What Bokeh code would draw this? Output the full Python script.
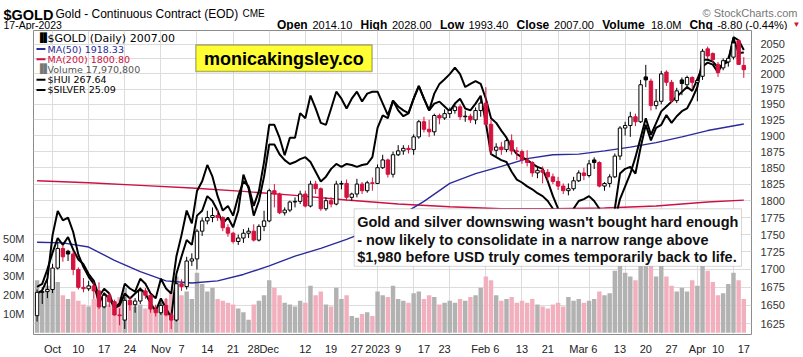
import numpy as np
import pandas as pd
from bokeh.plotting import figure
from bokeh.layouts import column
from bokeh.models import (Range1d, LinearScale, LinearAxis, FixedTicker, Label, LabelSet,
                          ColumnDataSource, BoxAnnotation, PrintfTickFormatter, CustomJSTickFormatter)
from bokeh.core.properties import value
from bokeh.embed import file_html
from bokeh.resources import INLINE

# ---------------- data ----------------
HOLIDAYS = ["2022-11-24", "2022-12-26", "2023-01-02", "2023-01-16", "2023-02-20", "2023-04-07"]
trade_dates = [d for d in pd.bdate_range("2022-09-28", "2023-04-17")
               if d.strftime("%Y-%m-%d") not in HOLIDAYS]

opens = [1636, 1668, 1669, 1672, 1702, 1730, 1726, 1722, 1700, 1675, 1673, 1677, 1670, 1648, 1664, 1655, 1637, 1630, 1657, 1651,
         1656, 1670, 1664, 1645, 1640, 1650, 1637, 1630, 1680, 1676, 1712, 1715, 1755, 1770, 1775, 1778, 1775, 1760, 1752, 1740,
         1745, 1752, 1755, 1742, 1762, 1770, 1815, 1810, 1782, 1786, 1798, 1799, 1810, 1792, 1825, 1818, 1788, 1800, 1795, 1825,
         1826, 1805, 1810, 1825, 1815, 1827, 1826, 1850, 1862, 1840, 1870, 1876, 1880, 1878, 1898, 1922, 1910, 1906, 1932, 1928,
         1935, 1940, 1946, 1930, 1931, 1925, 1940, 1952, 1918, 1877, 1882, 1878, 1892, 1876, 1875, 1862, 1858, 1842, 1846, 1843,
         1836, 1829, 1822, 1815, 1818, 1830, 1842, 1838, 1862, 1858, 1822, 1826, 1836, 1868, 1912, 1916, 1930, 1922, 1995, 1988,
         1948, 1955, 2003, 1986, 1956, 1990, 1982, 1994, 1986, 1996, 2042, 2034, 2016, 2010, 2020, 2028, 2056, 2014.1]
highs = [1672, 1675, 1687, 1708, 1740, 1735, 1728, 1726, 1703, 1688, 1684, 1683, 1682, 1668, 1667, 1658, 1646, 1662, 1662, 1660,
         1675, 1674, 1666, 1651, 1656, 1660, 1640, 1682, 1686, 1718, 1723, 1758, 1775, 1785, 1790, 1787, 1777, 1765, 1754, 1750,
         1758, 1760, 1765, 1765, 1785, 1818, 1825, 1812, 1790, 1800, 1805, 1815, 1815, 1830, 1830, 1820, 1805, 1805, 1830, 1830,
         1832, 1812, 1833, 1828, 1830, 1835, 1855, 1870, 1864, 1875, 1885, 1885, 1885, 1902, 1925, 1930, 1925, 1935, 1935, 1942,
         1945, 1950, 1950, 1940, 1935, 1945, 1960, 1978, 1925, 1888, 1890, 1897, 1902, 1882, 1878, 1877, 1860, 1852, 1852, 1848,
         1841, 1836, 1826, 1826, 1836, 1846, 1850, 1862, 1866, 1860, 1828, 1840, 1872, 1915, 1922, 1938, 1935, 1990, 2015, 1992,
         1975, 2005, 2006, 1990, 1977, 1994, 1997, 1996, 1994, 2042, 2046, 2036, 2020, 2026, 2030, 2062, 2058, 2028]
lows = [1628, 1652, 1660, 1667, 1700, 1711, 1712, 1692, 1672, 1668, 1670, 1659, 1645, 1646, 1648, 1636, 1623, 1618, 1643, 1640,
        1652, 1659, 1640, 1635, 1637, 1635, 1618, 1628, 1670, 1672, 1705, 1700, 1748, 1765, 1768, 1770, 1755, 1747, 1737, 1735,
        1738, 1745, 1740, 1740, 1755, 1768, 1790, 1780, 1778, 1783, 1790, 1795, 1790, 1790, 1810, 1785, 1785, 1790, 1793, 1817,
        1800, 1800, 1805, 1810, 1812, 1815, 1825, 1848, 1835, 1835, 1868, 1870, 1872, 1870, 1895, 1905, 1898, 1900, 1918, 1925,
        1928, 1935, 1925, 1922, 1920, 1918, 1930, 1915, 1870, 1868, 1870, 1874, 1870, 1862, 1856, 1852, 1836, 1834, 1826, 1830,
        1825, 1816, 1810, 1808, 1815, 1828, 1831, 1835, 1848, 1820, 1815, 1820, 1834, 1862, 1900, 1898, 1915, 1920, 1978, 1940,
        1942, 1950, 1980, 1952, 1952, 1965, 1976, 1975, 1955, 1990, 2025, 2018, 1995, 2006, 2012, 2024, 2015, 1993.4]
closes = [1668, 1669, 1672, 1702, 1730, 1718, 1722, 1700, 1675, 1673, 1677, 1670, 1648, 1664, 1655, 1637, 1636, 1657, 1651, 1656,
          1670, 1664, 1645, 1640, 1650, 1637, 1630, 1680, 1676, 1712, 1715, 1755, 1770, 1775, 1778, 1775, 1760, 1752, 1740, 1745,
          1752, 1755, 1742, 1762, 1770, 1815, 1810, 1782, 1786, 1798, 1799, 1810, 1792, 1825, 1818, 1788, 1800, 1795, 1825, 1826,
          1805, 1810, 1825, 1815, 1827, 1826, 1850, 1862, 1840, 1870, 1876, 1880, 1878, 1898, 1922, 1910, 1906, 1932, 1928, 1935,
          1940, 1946, 1930, 1931, 1925, 1940, 1952, 1918, 1877, 1882, 1878, 1892, 1876, 1875, 1862, 1858, 1842, 1846, 1843, 1836,
          1829, 1822, 1815, 1818, 1830, 1842, 1838, 1856, 1858, 1822, 1826, 1836, 1868, 1912, 1916, 1930, 1922, 1982, 1990, 1948,
          1955, 2000, 1986, 1956, 1972, 1984, 1994, 1986, 1989, 2038, 2030, 2024, 2002, 2022, 2026, 2052, 2015.8, 2007]

volume_m = [28, 22, 25, 30, 27, 20, 18, 22, 17, 15, 14, 18, 20, 16, 15, 17, 19, 24, 16, 14,
            15, 13, 15, 14, 16, 18, 22, 30, 20, 22, 18, 32, 26, 22, 24, 18, 17, 16, 15, 13,
            11, 7, 15, 17, 20, 28, 24, 20, 16, 15, 14, 17, 16, 25, 20, 22, 15, 14, 24, 18,
            20, 9, 8, 10, 11, 9, 22, 20, 19, 25, 18, 17, 16, 21, 22, 18, 20, 19, 15, 16,
            17, 16, 18, 17, 19, 20, 24, 30, 28, 20, 17, 18, 19, 16, 17, 16, 18, 15, 14, 13,
            15, 16, 14, 19, 17, 18, 16, 17, 18, 22, 20, 21, 33, 38, 32, 30, 28, 45, 40, 37,
            30, 38, 30, 25, 22, 24, 22, 28, 25, 36, 33, 27, 20, 21, 26, 32, 28, 17.9708]

silver = [18.84, 18.92, 19.22, 20.34, 20.96, 20.72, 20.79, 20.42, 19.84, 19.52, 19.27, 19.09, 18.59, 18.84, 18.72, 18.47, 18.59, 19.09, 18.97, 18.89,
          19.22, 19.09, 18.84, 18.72, 19.22, 18.97, 18.84, 19.79, 20.34, 20.97, 20.64, 21.47, 21.72, 22.14, 21.84, 21.34, 20.97, 21.09, 20.84, 21.34,
          21.72, 21.59, 21.09, 21.47, 22.22, 23.17, 23.17, 22.84, 22.39, 22.84, 22.84, 23.47, 23.34, 23.92, 23.59, 23.22, 23.17, 23.59, 24.02, 23.84,
          23.59, 23.84, 24.02, 23.77, 23.97, 24.02, 24.02, 23.72, 23.42, 23.79, 23.64, 23.54, 23.47, 23.84, 24.17, 23.84, 23.54, 23.97, 24.22, 24.34,
          24.47, 24.64, 24.47, 24.14, 24.22, 24.29, 24.22, 23.84, 23.34, 23.22, 23.02, 22.84, 22.59, 22.42, 22.34, 22.27, 22.17, 22.09, 22.04, 21.72,
          21.34, 21.02, 20.72, 20.34, 20.47, 20.64, 20.54, 20.72, 20.59, 20.09, 19.97, 20.34, 21.02, 21.92, 22.04, 22.09, 21.92, 22.59, 23.17, 22.77,
          23.09, 23.17, 23.42, 23.22, 23.39, 23.52, 23.59, 23.84, 24.14, 24.84, 24.84, 24.79, 24.64, 24.72, 24.79, 25.42, 25.34, 25.09]
hui = [195.5, 196.4, 200.9, 206.0, 210.5, 208.4, 210.8, 206.9, 203.9, 202.4, 199.4, 197.3, 192.5, 194.9, 193.4, 188.9, 189.8, 193.4, 191.9, 193.4,
       194.9, 193.4, 190.4, 188.0, 191.9, 188.9, 185.9, 199.4, 204.8, 209.9, 208.4, 217.4, 218.9, 223.4, 221.9, 218.9, 215.0, 216.8, 213.8, 218.9,
       230.0, 225.8, 217.4, 221.9, 229.4, 239.3, 239.3, 236.3, 234.5, 233.3, 233.9, 234.8, 235.4, 233.9, 230.9, 227.9, 229.4, 231.8, 233.3, 232.4,
       233.3, 233.0, 232.4, 233.0, 233.3, 235.4, 244.4, 248.3, 247.4, 252.8, 249.8, 248.0, 248.9, 253.4, 257.3, 253.4, 249.8, 251.9, 252.5, 251.0,
       249.5, 251.9, 253.4, 250.4, 249.8, 251.9, 254.3, 245.9, 236.3, 235.4, 234.5, 233.9, 230.9, 228.5, 227.6, 226.4, 225.5, 224.3, 223.4, 221.9,
       219.5, 215.9, 212.9, 213.8, 219.5, 221.9, 222.5, 223.4, 221.9, 219.5, 215.9, 211.4, 215.9, 222.5, 226.4, 230.3, 235.4, 241.4, 247.4, 242.3,
       245.9, 249.5, 251.0, 252.5, 254.0, 255.5, 257.0, 255.8, 259.4, 263.3, 264.5, 263.9, 261.5, 264.5, 265.4, 272.0, 267.5, 267.64]

ma50_idx = [0, 5, 10, 15, 20, 25, 30, 35, 40, 45, 50, 55, 60, 65, 70, 75, 80, 85, 90, 95, 100, 105, 110, 115, 120, 125, 130, 137]
ma50 = [1739, 1738, 1732, 1713, 1697, 1684, 1681, 1684, 1693, 1705, 1719, 1730, 1743, 1758, 1776, 1799, 1826, 1841, 1852, 1864,
        1870, 1871, 1876, 1882, 1889, 1898, 1908, 1918.33]
ma200_idx = [0, 10, 20, 30, 40, 50, 60, 70, 80, 90, 100, 110, 120, 130, 137]
ma200 = [1830, 1827, 1823, 1819, 1814, 1808, 1801, 1795, 1791, 1788, 1788, 1789, 1792, 1798, 1800.80]

x_tick_dates = ["2022-10-03", "2022-10-10", "2022-10-17", "2022-10-24", "2022-11-01", "2022-11-07", "2022-11-14",
                "2022-11-21", "2022-11-28", "2022-12-01", "2022-12-12", "2022-12-19", "2022-12-27", "2023-01-03",
                "2023-01-09", "2023-01-17", "2023-01-23", "2023-02-01", "2023-02-06", "2023-02-13", "2023-02-21",
                "2023-03-01", "2023-03-06", "2023-03-13", "2023-03-20", "2023-03-27", "2023-04-03", "2023-04-10",
                "2023-04-17"]
x_tick_labels = ["Oct", "10", "17", "24", "Nov", "7", "14", "21", "28", "Dec", "12", "19", "27", "2023", "9", "17",
                 "23", "Feb", "6", "13", "21", "Mar", "6", "13", "20", "27", "Apr", "10", "17"]
month_labels = ["Oct", "Nov", "Dec", "2023", "Feb", "Mar", "Apr"]
grid_idx = [3, 10, 17, 24, 31, 38, 45, 52, 59, 66, 73, 80, 87, 94, 101, 107, 114, 121, 128, 135]
price_ticks = [1625, 1650, 1675, 1700, 1725, 1750, 1775, 1800, 1825, 1850, 1875, 1900, 1925, 1950, 1975, 2000, 2025, 2050]
vol_ticks = [10e6, 20e6, 30e6, 40e6, 50e6]

# ---------------- layout (page pixel coordinates) ----------------
W, H, HEAD = 803, 357, 30
FL, FR, FT, FB = 30, 751, HEAD, 342
PX0, PXD = 33.6, 5.18
X0 = (FL - PX0) / PXD
X1 = (FR - PX0) / PXD
P_LO, P_HI = 1610.6, 2073.4


def cx(X):
    return X0 + (X - FL) * (X1 - X0) / (FR - FL)


def cy(Y):
    return float(np.exp(np.log(P_HI) - (Y - FT) * (np.log(P_HI) - np.log(P_LO)) / (FB - FT)))


date_str = [d.strftime("%Y-%m-%d") for d in trade_dates]
pos = {s: i for i, s in enumerate(date_str)}
idx = list(range(len(trade_dates)))

RED = "#d4123e"
NAVY = "#2a2a9a"
CRIM = "#cc1144"

# ---------------- header figure ----------------
hd = figure(width=W, height=HEAD, x_range=Range1d(0, W), y_range=Range1d(HEAD, 0),
            x_axis_type=None, y_axis_type=None, title=None,
            output_backend="svg", toolbar_location=None, min_border=0)
hd.grid.visible = False
hd.outline_line_color = None


def htext(X, Y, t, size, color="#000000", bold=False, align="left"):
    hd.text(x=[X], y=[Y], text=[t], text_font=value("Liberation Sans"), text_font_size=size,
            text_font_style="bold" if bold else "normal", text_color=color, text_align=align,
            text_baseline="alphabetic")


htext(3, 14, "$GOLD", "14.5px", bold=True)
htext(55, 13, "Gold - Continuous Contract (EOD)", "12px")
htext(242, 13, "CME", "10px")
htext(3, 24.5, "17-Apr-2023", "10.5px")
hdr = [(276.5, "Open", True), (312.0, "2014.10", False), (360.1, "High", True), (391.4, "2028.00", False),
       (439.5, "Low", True), (468.0, "1993.40", False), (516.1, "Close", True), (553.6, "2007.00", False),
       (601.7, "Volume", True), (650.4, "18.0M", False), (688.9, "Chg", True), (716.7, "-8.80 (-0.44%)", False)]
for X, t, b in hdr:
    htext(X, 24.5, t, "12px" if b else "11px", bold=b)
htext(792, 24, "\u25BC", "8px", color=RED)
htext(797, 12.5, "\u00A9 StockCharts.com", "11px", color="#777777", align="right")

# ---------------- main figure ----------------
p = figure(width=W, height=H - HEAD, x_range=Range1d(X0, X1), y_range=Range1d(P_LO, P_HI),
           y_axis_type="log", y_axis_location="right", output_backend="svg", toolbar_location=None,
           min_border_left=FL, min_border_right=W - FR, min_border_top=0, min_border_bottom=H - FB)

# keep each figure's plot area independent inside the column
for fig in (hd, p):
    try:
        fig.frame_align = False
    except Exception:
        pass

p.extra_y_ranges = {"vol": Range1d(-0.88e6, 160.7e6), "hui": Range1d(180.8, 274.4),
                    "silver": Range1d(17.79, 25.59)}
p.extra_y_scales = {"vol": LinearScale(), "hui": LinearScale(), "silver": LinearScale()}
p.outline_line_color = "#8c8c8c"
p.background_fill_color = "white"
p.border_fill_color = "white"

pax = p.yaxis[0]
pax.ticker = FixedTicker(ticks=price_ticks)
pax.formatter = PrintfTickFormatter(format="%d")
pax.axis_line_color = None
pax.major_tick_line_color = None
pax.minor_tick_line_color = None
pax.major_label_text_font = "Liberation Sans"
pax.major_label_text_font_size = "11px"
pax.major_label_text_color = "#333333"
pax.major_label_standoff = 3

p.ygrid.ticker = FixedTicker(ticks=price_ticks)
p.ygrid.grid_line_color = "#dcdcdc"
p.xgrid.ticker = FixedTicker(ticks=grid_idx)
p.xgrid.grid_line_color = "#dcdcdc"

vax = LinearAxis(y_range_name="vol", ticker=FixedTicker(ticks=vol_ticks),
                 formatter=CustomJSTickFormatter(code="return Math.round(tick/1e6) + 'M';"))
vax.axis_line_color = None
vax.major_tick_line_color = None
vax.minor_tick_line_color = None
vax.major_label_text_font = "Liberation Sans"
vax.major_label_text_font_size = "11px"
vax.major_label_text_color = "#333333"
vax.major_label_standoff = 3
p.add_layout(vax, "left")

xax = p.xaxis[0]
xax.ticker = FixedTicker(ticks=[pos[d] for d in x_tick_dates])
xax.major_label_overrides = {pos[d]: t for d, t in zip(x_tick_dates, x_tick_labels)}
xax.axis_line_color = None
xax.major_tick_line_color = None
xax.minor_tick_line_color = None
xax.major_label_text_font = "Liberation Sans"
xax.major_label_text_font_size = "11px"
xax.major_label_text_color = "#222222"
xax.major_label_standoff = 2

# bold month names drawn over the axis labels
month_x = [pos[d] for d, t in zip(x_tick_dates, x_tick_labels) if t in month_labels]
month_src = ColumnDataSource(dict(x=month_x, y=[cy(349)] * len(month_x), text=month_labels))
p.add_layout(LabelSet(x="x", y="y", text="text", source=month_src, text_font="Liberation Sans",
                      text_font_size="11px", text_font_style="bold", text_align="center",
                      text_baseline="middle", text_color="#222222", level="overlay",
                      background_fill_color="white"))

# volume bars
prev = [opens[0]] + closes[:-1]
vol_col = ["#b2b2b2" if c >= pc else "#f2b0bf" for c, pc in zip(closes, prev)]
vsrc = ColumnDataSource(dict(x=idx, top=[v * 1e6 for v in volume_m], color=vol_col))
p.vbar(x="x", top="top", bottom=0, width=0.86, fill_color="color", line_color=None,
       source=vsrc, y_range_name="vol")

p.line(ma200_idx, ma200, color=CRIM, line_width=1.4)
p.line(ma50_idx, ma50, color=NAVY, line_width=1.4)
p.line(idx, hui, color="black", line_width=2, y_range_name="hui")
p.line(idx, silver, color="black", line_width=2, y_range_name="silver")

ccol = ["black" if c >= pc else RED for c, pc in zip(closes, prev)]
fills = ["white" if c >= o else col for c, o, col in zip(closes, opens, ccol)]
csrc = ColumnDataSource(dict(x=idx, o=opens, h=highs, l=lows, c=closes,
                             top=[max(o, c) for o, c in zip(opens, closes)],
                             bot=[min(o, c) for o, c in zip(opens, closes)],
                             col=ccol, fill=fills))
p.segment(x0="x", y0="l", x1="x", y1="h", color="col", line_width=1, source=csrc)
p.vbar(x="x", top="top", bottom="bot", width=0.66, fill_color="fill", line_color="col",
       line_width=1, source=csrc)


def lab(X, Y, text, size="11px", color="#000000", bold=False, font="Liberation Sans", align="left", **kw):
    lb = Label(x=cx(X), y=cy(Y), text=text, text_font_size=size, text_color=color,
               text_font_style="bold" if bold else "normal", text_font=font, text_align=align,
               text_baseline="middle", **kw)
    p.add_layout(lb)
    return lb


legend_rows = [(38, "$GOLD (Daily) 2007.00", "black", "11px"),
               (49, "MA(50) 1918.33", NAVY, "9.5px"),
               (59.5, "MA(200) 1800.80", CRIM, "9.5px"),
               (70, "Volume 17,970,800", "#555555", "9.5px"),
               (80.5, "$HUI 267.64", "black", "9.5px"),
               (91, "$SILVER 25.09", "black", "9.5px")]
for Y, t, c, s in legend_rows:
    lab(44, Y, t, size=s, color=c, font="DejaVu Sans")
for Y, c in [(49, NAVY), (59.5, CRIM), (80.5, "black"), (91, "black")]:
    p.add_layout(BoxAnnotation(left=cx(33), right=cx(42), bottom=cy(Y + 1), top=cy(Y - 1),
                               fill_color=c, fill_alpha=1, line_color=None))
lab(33, 38, "\u2590\u258C", size="9px", font="DejaVu Sans")
lab(33, 70, "\u2590\u258C", size="9px", color="#777777", font="DejaVu Sans")

p.add_layout(BoxAnnotation(left=cx(193), right=cx(370), top=cy(45), bottom=cy(72),
                           fill_color="#ffff33", fill_alpha=1, line_color="black", line_width=1.5))
lab(281.5, 59, "monicakingsley.co", size="18px", bold=True, align="center")

p.add_layout(BoxAnnotation(left=cx(352), right=cx(741), top=cy(213), bottom=cy(272),
                           fill_color="white", fill_alpha=1, line_color="#777777", line_width=1))
for Y, t in [(227, "Gold and silver downswing wasn't bought hard enough"),
             (245, "- now likely to consolidate in a narrow range above"),
             (262, "$1,980 before USD truly comes temporarily back to life.")]:
    lab(355, Y, t, size="14.5px", bold=True, color="#111111")

p.add_layout(Label(x=cx(757), y=closes[-1], text="2007.00", text_font="Liberation Sans",
                   text_font_size="11.5px", text_font_style="bold", text_baseline="middle",
                   border_line_color="black", background_fill_color="white", padding=1))
p.add_layout(Label(x=cx(757), y=ma50[-1], text="1918.33", text_font="Liberation Sans",
                   text_font_size="11px", text_color=NAVY, text_baseline="middle",
                   border_line_color=NAVY, background_fill_color="white", padding=1))
p.add_layout(Label(x=cx(757), y=ma200[-1], text="1800.80", text_font="Liberation Sans",
                   text_font_size="11px", text_color=CRIM, text_baseline="middle",
                   border_line_color=CRIM, background_fill_color="white", padding=1))
p.add_layout(Label(x=cx(757), y=volume_m[-1] * 1e6, y_range_name="vol", text="1797080",
                   text_font="Liberation Sans", text_font_size="11px", text_baseline="middle",
                   border_line_color="black", background_fill_color="white", padding=1))

open("out.html", "w").write(file_html(column(hd, p, spacing=0), INLINE))
